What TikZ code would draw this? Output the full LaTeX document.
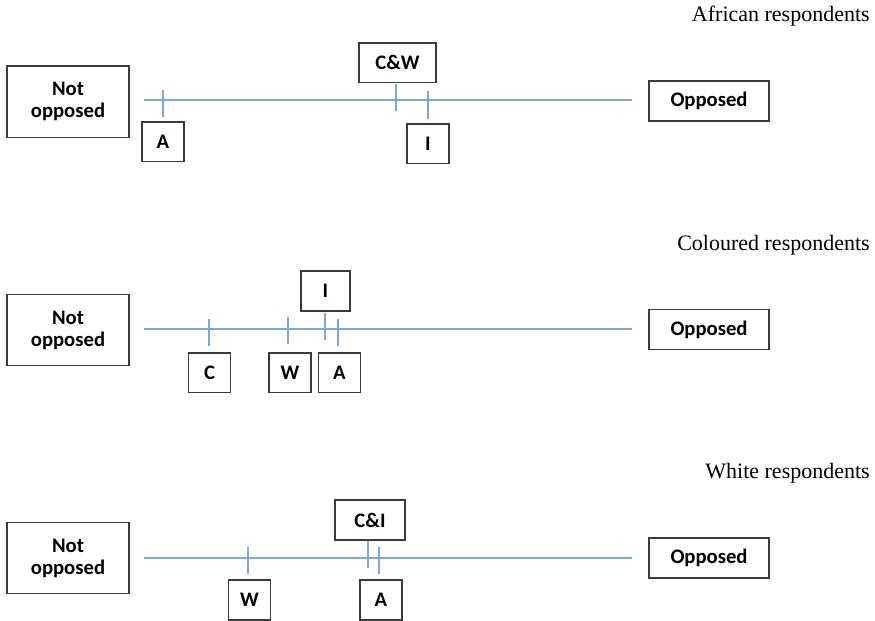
\documentclass[tikz,border=0pt]{standalone}
\usepackage{fontspec}
\setmainfont{Liberation Serif}
\setsansfont{Carlito}
\usepackage{xcolor}
\usepackage{tikz}
\definecolor{scaleblue}{HTML}{7BA7D9}
\definecolor{boxgray}{HTML}{3A3A3A}
\tikzset{
  markbox/.style={draw=boxgray, line width=1pt, fill=white, inner sep=0pt, align=center,
                  font=\sffamily\bfseries\fontsize{15.5}{16.5}\selectfont},
  poleleft/.style={markbox, minimum width=91.5pt, minimum height=53.5pt},
  poleright/.style={markbox, minimum width=90pt, minimum height=30pt},
  smallbox/.style={markbox, minimum width=31.5pt, minimum height=29.5pt},
  scaleline/.style={draw=scaleblue, line width=1.3pt},
  panelhead/.style={anchor=east, inner sep=0pt, font=\fontsize{16.5}{18}\selectfont}
}
\newcommand{\scaletick}[3]{
  \draw[scaleline] (#1,#2) -- (#1,#3);
}

\begin{document}
\begin{tikzpicture}[x=0.75pt,y=-0.75pt]
\useasboundingbox (0,0) rectangle (875,621);

% African respondents
\node[panelhead] (headA) at (870,16) {African respondents};
\node[poleleft] (notA) at (68,101.5) {Not\\opposed};
\node[poleright] (oppA) at (709,101) {Opposed};
\coordinate (startA) at (144,100);
\coordinate (endA) at (632,100);
\draw[scaleline] (startA) -- (endA);
\scaletick{163}{90}{117}
\scaletick{396}{84}{111}
\scaletick{428}{91}{119}
\node[smallbox] (aA) at (163,141.5) {A};
\node[smallbox, minimum width=57.75pt] (cwA) at (397.5,62.5) {C\&W};
\node[smallbox] (iA) at (428,143.5) {I};

% Coloured respondents
\node[panelhead] (headC) at (870,245) {Coloured respondents};
\node[poleleft] (notC) at (68,330) {Not\\opposed};
\node[poleright] (oppC) at (709,329.5) {Opposed};
\coordinate (startC) at (144,329);
\coordinate (endC) at (632,329);
\draw[scaleline] (startC) -- (endC);
\scaletick{209}{319}{346}
\scaletick{288}{317}{344}
\scaletick{325}{313}{340}
\scaletick{338}{319}{346}
\node[smallbox] (cC) at (209.5,372.5) {C};
\node[smallbox] (wC) at (290,372.5) {W};
\node[smallbox] (aC) at (339.5,372.5) {A};
\node[smallbox, minimum width=36.75pt, minimum height=30pt] (iC) at (325.5,291) {I};

% White respondents
\node[panelhead] (headW) at (870,473) {White respondents};
\node[poleleft] (notW) at (68,558) {Not\\opposed};
\node[poleright] (oppW) at (709,558) {Opposed};
\coordinate (startW) at (144,558);
\coordinate (endW) at (632,558);
\draw[scaleline] (startW) -- (endW);
\scaletick{248}{547}{574}
\scaletick{368}{541}{568}
\scaletick{379}{547}{574}
\node[smallbox, minimum height=30pt] (wW) at (249.5,600) {W};
\node[smallbox, minimum width=52.5pt, minimum height=30pt] (ciW) at (370,520) {C\&I};
\node[smallbox, minimum height=30pt] (aW) at (381,600) {A};
\end{tikzpicture}
\end{document}
